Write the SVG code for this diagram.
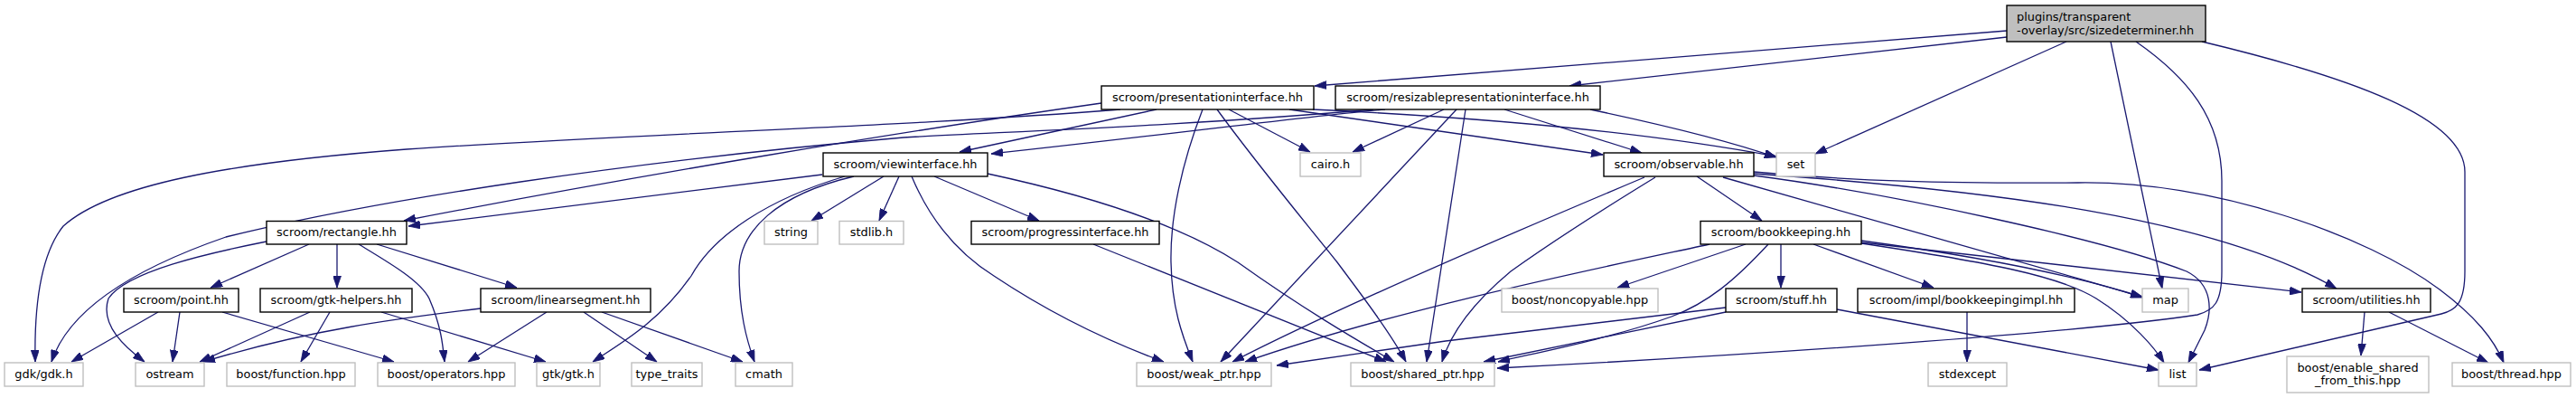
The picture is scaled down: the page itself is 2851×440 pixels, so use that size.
<svg xmlns="http://www.w3.org/2000/svg" width="2851" height="440" viewBox="0 0 2851 440">
<style>
.n rect{fill:#fff;stroke:#000;stroke-width:1.4}
.x rect{fill:#fff;stroke:#bfbfbf;stroke-width:1.4}
.r rect{fill:#bfbfbf;stroke:#000;stroke-width:1.4}
text{font-family:"DejaVu Sans",sans-serif;font-size:12.9px;fill:#000;text-anchor:middle}
.r text{text-anchor:start}
#edges path{fill:none;stroke:#191970;stroke-width:1.3;marker-end:url(#a)}
</style>
<defs>
<marker id="a" viewBox="0 0 13 9" refX="13" refY="4.5" markerWidth="13" markerHeight="9" markerUnits="userSpaceOnUse" orient="auto">
<path d="M0,0 L13,4.5 L0,9 z" fill="#191970" stroke="#191970" stroke-width="0.8"/>
</marker>
</defs>
<rect width="2851" height="440" fill="#fff"/>
<g id="edges">
<path d="M2221,34 L1455,95"/>
<path d="M2221,41 L1737,95"/>
<path d="M2287,46 L2009,170"/>
<path d="M2336,46 L2393,319"/>
<path d="M2364,46 C2420,85 2459,130 2459,200 L2459,300 C2459,335 2450,343 2432,348 C2300,368 1950,392 1657,407"/>
<path d="M2437,46 C2600,85 2728,130 2728,190 L2728,300 C2728,335 2718,343 2702,347 L2434,409"/>
<path d="M1219,114 C1000,145 700,195 447,244"/>
<path d="M1240,121 C1000,140 700,148 450,165 C250,180 120,205 70,250 C42,285 38,350 39,400"/>
<path d="M1280,121 L1062,168"/>
<path d="M1360,121 L1450,168"/>
<path d="M1427,121 L1774,171"/>
<path d="M1453,121 C1600,128 1800,142 1966,173"/>
<path d="M1331,121 C1308,180 1295,240 1296,290 C1297,340 1308,370 1320,400"/>
<path d="M1347,121 C1390,180 1440,240 1480,290 C1510,330 1540,370 1556,400"/>
<path d="M1520,121 C1300,140 1100,146 1000,152 C700,178 420,220 250,262 C140,300 75,345 57,400"/>
<path d="M1533,121 C1467,126 1300,148 1097,170"/>
<path d="M1598,121 L1497,168"/>
<path d="M1665,121 L1817,169"/>
<path d="M1760,121 C1850,140 1920,158 1966,174"/>
<path d="M1612,121 L1351,400"/>
<path d="M1622,121 L1579,400"/>
<path d="M910,193 L452,250"/>
<path d="M978,195 L898,244"/>
<path d="M995,195 L973,244"/>
<path d="M1034,195 L1150,244"/>
<path d="M935,195 C850,220 790,260 765,305 C730,355 690,378 656,400"/>
<path d="M945,195 C860,215 818,255 818,300 C818,345 826,375 835,400"/>
<path d="M1009,195 C1030,245 1060,280 1100,305 C1160,345 1220,375 1288,400"/>
<path d="M1093,192 C1200,215 1300,245 1370,290 C1440,340 1500,375 1543,400"/>
<path d="M1210,270 L1534,400"/>
<path d="M1878,195 L1950,244"/>
<path d="M1820,196 C1720,238 1480,340 1364,400"/>
<path d="M1832,196 C1760,240 1700,280 1672,300 C1630,335 1605,370 1596,400"/>
<path d="M1907,196 L2371,328"/>
<path d="M1941,194 C2100,215 2330,265 2420,300 C2450,315 2448,345 2440,365 L2422,401"/>
<path d="M1941,192 C2200,210 2450,240 2586,319"/>
<path d="M1941,190 C2050,200 2150,203 2300,202 C2450,200 2620,260 2700,320 C2740,350 2760,375 2771,401"/>
<path d="M1892,270 C1800,290 1550,340 1378,400"/>
<path d="M1932,270 L1790,318"/>
<path d="M1957,270 C1920,310 1890,335 1850,350 C1780,375 1700,390 1658,400"/>
<path d="M1971,270 L1971,318"/>
<path d="M2007,270 L2140,318"/>
<path d="M2060,266 C2200,285 2300,305 2371,329"/>
<path d="M2060,268 L2547,323"/>
<path d="M2060,269 C2200,290 2280,305 2320,330 C2360,355 2385,385 2395,401"/>
<path d="M1910,340 L1600,377 L1413,404"/>
<path d="M1910,345 L1642,400"/>
<path d="M2033,342 L2389,409"/>
<path d="M2177,345 L2177,400"/>
<path d="M2617,345 L2613,393"/>
<path d="M2644,345 L2754,401"/>
<path d="M295,267 C230,280 140,300 120,330 C110,360 140,385 160,400"/>
<path d="M342,270 L233,318"/>
<path d="M373,270 L373,318"/>
<path d="M397,270 C430,290 465,310 475,330 C488,360 490,380 492,400"/>
<path d="M417,270 L572,318"/>
<path d="M175,345 L79,400"/>
<path d="M199,345 L191,400"/>
<path d="M246,345 L436,400"/>
<path d="M343,345 L221,400"/>
<path d="M365,345 L333,400"/>
<path d="M422,345 L604,400"/>
<path d="M532,341 C440,352 340,365 225,400"/>
<path d="M605,345 L518,400"/>
<path d="M646,345 L727,400"/>
<path d="M666,345 L822,400"/>
</g>
<g id="root" class="r"><rect x="2221" y="6" width="220" height="40"/><text x="2232" y="23">plugins/transparent</text><text x="2232" y="37.5">-overlay/src/sizedeterminer.hh</text></g>
<g id="pres" class="n"><rect x="1219" y="95" width="235" height="26"/><text x="1336.5" y="111.5">scroom/presentationinterface.hh</text></g>
<g id="res" class="n"><rect x="1478" y="95" width="293" height="26"/><text x="1624.5" y="111.5">scroom/resizablepresentationinterface.hh</text></g>
<g id="vi" class="n"><rect x="911" y="169" width="182" height="26"/><text x="1002" y="185.5">scroom/viewinterface.hh</text></g>
<g id="cairo" class="x"><rect x="1439" y="169" width="67" height="26"/><text x="1472.5" y="185.5">cairo.h</text></g>
<g id="obs" class="n"><rect x="1775" y="169" width="166" height="26"/><text x="1858" y="185.5">scroom/observable.hh</text></g>
<g id="set" class="x"><rect x="1966" y="169" width="43" height="26"/><text x="1987.5" y="185.5">set</text></g>
<g id="rect" class="n"><rect x="295" y="244.5" width="155" height="25.5"/><text x="372.5" y="261">scroom/rectangle.hh</text></g>
<g id="string" class="x"><rect x="846" y="244.5" width="59" height="25.5"/><text x="875.5" y="261">string</text></g>
<g id="stdlib" class="x"><rect x="929" y="244.5" width="71" height="25.5"/><text x="964.5" y="261">stdlib.h</text></g>
<g id="prog" class="n"><rect x="1075" y="244.5" width="208" height="25.5"/><text x="1179" y="261">scroom/progressinterface.hh</text></g>
<g id="bk" class="n"><rect x="1882" y="244.5" width="178" height="25.5"/><text x="1971" y="261">scroom/bookkeeping.hh</text></g>
<g id="point" class="n"><rect x="137" y="319" width="127" height="26"/><text x="200.5" y="335.5">scroom/point.hh</text></g>
<g id="gh" class="n"><rect x="288" y="319" width="168" height="26"/><text x="372" y="335.5">scroom/gtk-helpers.hh</text></g>
<g id="ls" class="n"><rect x="532" y="319" width="188" height="26"/><text x="626" y="335.5">scroom/linearsegment.hh</text></g>
<g id="noncop" class="x"><rect x="1662" y="319" width="173" height="26"/><text x="1748.5" y="335.5">boost/noncopyable.hpp</text></g>
<g id="stuff" class="n"><rect x="1910" y="319" width="123" height="26"/><text x="1971.5" y="335.5">scroom/stuff.hh</text></g>
<g id="bki" class="n"><rect x="2056" y="319" width="240" height="26"/><text x="2176" y="335.5">scroom/impl/bookkeepingimpl.hh</text></g>
<g id="map" class="x"><rect x="2371" y="319" width="51" height="26"/><text x="2396.5" y="335.5">map</text></g>
<g id="util" class="n"><rect x="2548" y="319" width="142" height="26"/><text x="2619" y="335.5">scroom/utilities.hh</text></g>
<g id="gdk" class="x"><rect x="5" y="401" width="87" height="26"/><text x="48.5" y="417.5">gdk/gdk.h</text></g>
<g id="ostream" class="x"><rect x="150" y="401" width="76" height="26"/><text x="188" y="417.5">ostream</text></g>
<g id="function" class="x"><rect x="251" y="401" width="142" height="26"/><text x="322" y="417.5">boost/function.hpp</text></g>
<g id="operators" class="x"><rect x="418" y="401" width="152" height="26"/><text x="494" y="417.5">boost/operators.hpp</text></g>
<g id="gtk" class="x"><rect x="594" y="401" width="70" height="26"/><text x="629" y="417.5">gtk/gtk.h</text></g>
<g id="typetraits" class="x"><rect x="699" y="401" width="78" height="26"/><text x="738" y="417.5">type_traits</text></g>
<g id="cmath" class="x"><rect x="814" y="401" width="63" height="26"/><text x="845.5" y="417.5">cmath</text></g>
<g id="weak" class="x"><rect x="1258" y="401" width="149" height="26"/><text x="1332.5" y="417.5">boost/weak_ptr.hpp</text></g>
<g id="shared" class="x"><rect x="1495" y="401" width="159" height="26"/><text x="1574.5" y="417.5">boost/shared_ptr.hpp</text></g>
<g id="stdexcept" class="x"><rect x="2134" y="401" width="87" height="26"/><text x="2177.5" y="417.5">stdexcept</text></g>
<g id="list" class="x"><rect x="2389" y="401" width="42" height="26"/><text x="2410" y="417.5">list</text></g>
<g id="enable" class="x"><rect x="2531" y="394" width="157" height="40"/><text x="2609.5" y="410.5">boost/enable_shared</text><text x="2609.5" y="425">_from_this.hpp</text></g>
<g id="thread" class="x"><rect x="2714" y="401" width="131" height="26"/><text x="2779.5" y="417.5">boost/thread.hpp</text></g>
</svg>
